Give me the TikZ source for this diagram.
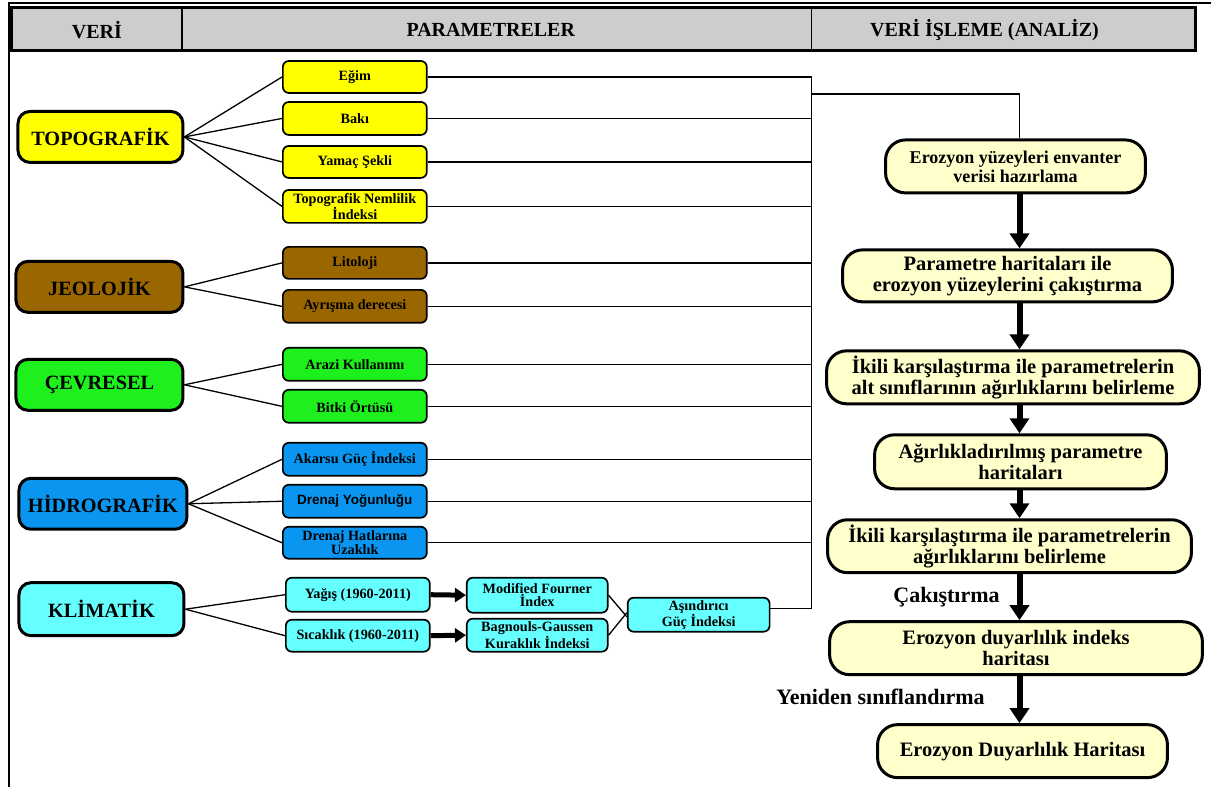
\documentclass[tikz,border=0pt]{standalone}
\usepackage{fontspec}
\setmainfont{Liberation Serif}
\newfontfamily\arialfont{Liberation Sans}
\usetikzlibrary{arrows.meta}
\definecolor{topoc}{HTML}{FFFF00}
\definecolor{jeoc}{HTML}{996600}
\definecolor{cevc}{HTML}{1EF01E}
\definecolor{hidc}{HTML}{0A96F0}
\definecolor{klic}{HTML}{66FFFF}
\definecolor{creamc}{HTML}{FFFFCC}
\definecolor{headc}{HTML}{CDCDCD}
\begin{document}
\begin{tikzpicture}[x=1pt,y=-1pt,
 catbox/.style={draw, line width=3pt, rounded corners=12pt, minimum height=51pt, inner sep=0pt, font=\fontsize{20.3}{22}\selectfont\bfseries},
 parbox/.style={draw, line width=1.7pt, rounded corners=6pt, minimum width=144pt, minimum height=32pt, inner sep=0pt, align=center, font=\fontsize{14.2}{12.8}\selectfont\bfseries},
 procbox/.style={draw, fill=creamc, line width=3pt, rounded corners=20pt, minimum height=53pt, inner sep=0pt, align=center, font=\fontsize{20.5}{21}\selectfont\bfseries},
 headtxt/.style={font=\fontsize{20}{22}\selectfont\bfseries},
 lbl/.style={font=\fontsize{22}{24}\selectfont\bfseries},
 conn/.style={line width=1.3pt},
 bigarrow/.style={line width=6pt, -{Triangle[width=19pt,length=15pt]}},
 smallarrow/.style={line width=5pt, -{Triangle[width=14pt,length=11pt]}},
]
\fill[white] (0,0) rectangle (1212,787);
% frame lines
\draw[line width=1.2pt] (1212,3) -- (9,3) -- (9,787);
% header
\draw[fill=headc, line width=3pt] (12,8) rectangle (1196,51);
\draw[line width=1.5pt] (182,8) -- (182,51);
\draw[line width=1.5pt] (812,8) -- (812,51);
\node[headtxt] (h1) at (97,30) {VERİ};
\node[headtxt] (h2) at (491,30) {PARAMETRELER};
\node[headtxt] (h3) at (985,30) {VERİ İŞLEME (ANALİZ)};

% categories
\node[catbox, fill=topoc, minimum width=165pt] (topo) at (100.5,137) {TOPOGRAFİK};
\node[catbox, fill=jeoc, minimum width=167pt] (jeo) at (99.5,287) {JEOLOJİK};
\node[catbox, fill=cevc, minimum width=167pt] (cev) at (99.5,385) {ÇEVRESEL};
\node[catbox, fill=hidc, minimum width=168pt] (hid) at (103,504) {HİDROGRAFİK};
\node[catbox, fill=klic, minimum width=165pt, minimum height=53pt] (kli) at (101.5,609.5) {KLİMATİK};

% parameters
\node[parbox, fill=topoc] (egim) at (355,77) {Eğim};
\node[parbox, fill=topoc, minimum height=33pt] (baki) at (355,118.5) {Bakı};
\node[parbox, fill=topoc] (yamac) at (355,162) {Yamaç Şekli};
\node[parbox, fill=topoc, minimum height=33pt] (tni) at (355,206.5) {Topografik Nemlilik\\İndeksi};
\node[parbox, fill=jeoc] (lito) at (355,263) {Litoloji};
\node[parbox, fill=jeoc, minimum height=33pt] (ayr) at (355,306.5) {Ayrışma derecesi};
\node[parbox, fill=cevc, minimum height=33pt] (arazi) at (355,364.5) {Arazi Kullanımı};
\node[parbox, fill=cevc, minimum height=33pt] (bitki) at (355,406.5) {Bitki Örtüsü};
\node[parbox, fill=hidc, minimum height=33pt] (akarsu) at (355,459.5) {Akarsu Güç İndeksi};
\node[parbox, fill=hidc, minimum height=33pt, font=\arialfont\fontsize{13.5}{12.5}\selectfont\bfseries] (dyog) at (355,501.5) {Drenaj Yoğunluğu};
\node[parbox, fill=hidc] (dhat) at (355,543) {Drenaj Hatlarına\\Uzaklık};
\node[parbox, fill=klic, minimum height=34pt] (yagis) at (358,595) {Yağış (1960-2011)};
\node[parbox, fill=klic] (sicak) at (358,636) {Sıcaklık (1960-2011)};
\node[parbox, fill=klic, minimum width=141pt, minimum height=35pt] (mfi) at (537.5,595.5) {Modified Fourner\\İndex};
\node[parbox, fill=klic, minimum width=141pt, minimum height=33pt] (bgk) at (537.5,635.5) {Bagnouls-Gaussen\\Kuraklık İndeksi};
\node[parbox, fill=klic, minimum width=142pt, minimum height=34pt] (asi) at (699,615) {Aşındırıcı\\Güç İndeksi};

% category -> parameter
\foreach \p in {egim,baki,yamac,tni} \draw[conn] (topo.east) -- (\p.west);
\foreach \p in {lito,ayr} \draw[conn] (jeo.east) -- (\p.west);
\foreach \p in {arazi,bitki} \draw[conn] (cev.east) -- (\p.west);
\foreach \p in {akarsu,dyog,dhat} \draw[conn] (hid.east) -- (\p.west);
\foreach \p in {yagis,sicak} \draw[conn] (kli.east) -- (\p.west);

% klimatik chain
\draw[smallarrow] (yagis.east) -- (mfi.west);
\draw[smallarrow] (sicak.east) -- (bgk.west);
\draw[conn] (mfi.east) -- ([yshift=-2pt]asi.west);
\draw[conn] (bgk.east) -- ([yshift=2pt]asi.west);

% bus
\coordinate (bx) at (812,0);
\coordinate (ax) at (1020,0);
\coordinate (asiE) at ([yshift=6pt]asi.east);
\foreach \p in {egim,baki,yamac,tni,lito,ayr,arazi,bitki,akarsu,dyog,dhat} \draw[conn] (\p.east) -- (\p.east -| bx);
\draw[conn] (asiE) -- (asiE -| bx);
\draw[conn] (egim.east -| bx) -- (asiE -| bx);

% processes
\node[procbox, minimum width=260pt, font=\fontsize{18}{19}\selectfont\bfseries] (p1) at (1016,166.5) {Erozyon yüzeyleri envanter\\verisi hazırlama};
\node[procbox, minimum width=330pt, minimum height=52pt] (p2) at (1008,276) {Parametre haritaları ile\\erozyon yüzeylerini çakıştırma};
\node[procbox, minimum width=373pt] (p3) at (1013.5,377.5) {İkili karşılaştırma ile parametrelerin\\alt sınıflarının ağırlıklarını belirleme};
\node[procbox, minimum width=292pt, minimum height=54pt] (p4) at (1021,462) {Ağırlıkladırılmış parametre\\haritaları};
\node[procbox, minimum width=364pt] (p5) at (1010,546.5) {İkili karşılaştırma ile parametrelerin\\ağırlıklarını belirleme};
\node[procbox, minimum width=373pt] (p6) at (1016.5,648.5) {Erozyon duyarlılık indeks\\haritası};
\node[procbox, minimum width=290pt] (p7) at (1023,751.5) {Erozyon Duyarlılık Haritası};

\coordinate (j) at (812,94);
\draw[conn] (j) -- (j -| ax) -- (p1.north -| ax);

\draw[bigarrow] (p1.south -| ax) -- (p2.north -| ax);
\draw[bigarrow] (p2.south -| ax) -- (p3.north -| ax);
\draw[bigarrow] (p3.south -| ax) -- (p4.north -| ax);
\draw[bigarrow] (p4.south -| ax) -- (p5.north -| ax);
\draw[bigarrow] (p5.south -| ax) -- (p6.north -| ax);
\draw[bigarrow] (p6.south -| ax) -- (p7.north -| ax);

\node[lbl] (l1) at (947,597) {Çakıştırma};
\node[lbl] (l2) at (881,697) {Yeniden sınıflandırma};
\end{tikzpicture}
\end{document}
